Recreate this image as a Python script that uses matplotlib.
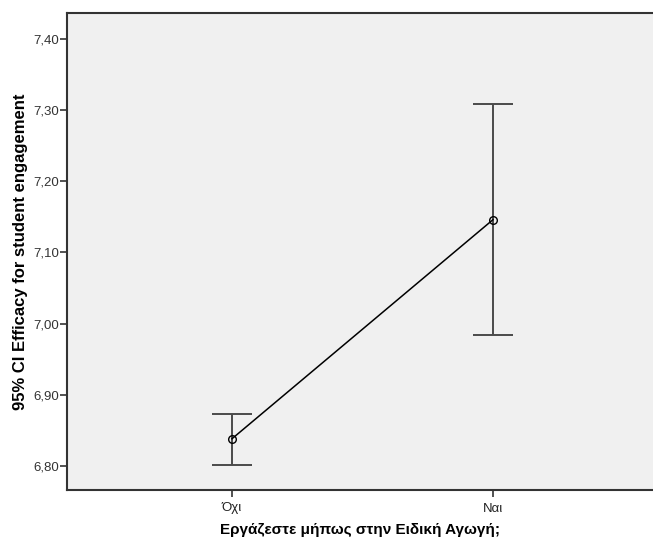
import numpy as np
import matplotlib.pyplot as plt
from matplotlib.ticker import FixedLocator

plt.rcParams['font.family'] = ['Liberation Sans', 'DejaVu Sans']

# data
categories = ["Όχι", "Ναι"]
means = [6.838, 7.146]
ci_low = [6.801, 6.984]
ci_high = [6.873, 7.308]
y_ticks = [6.80, 6.90, 7.00, 7.10, 7.20, 7.30, 7.40]

fig = plt.figure(figsize=(6.53, 5.40), dpi=100)
ax = fig.add_axes([67/653, 50/540, 586/653, 477/540])
ax.set_facecolor("#f0f0f0")

x = np.arange(len(categories))
means = np.array(means)
yerr = [means - np.array(ci_low), np.array(ci_high) - means]

ax.errorbar(x, means, yerr=yerr, fmt="none", ecolor="#4a4a4a", elinewidth=1.4,
            capsize=14.4, capthick=1.4, zorder=2)
ax.plot(x, means, color="black", linewidth=1.1, zorder=3)
ax.plot(x, means, linestyle="none", marker="o", markersize=5.5,
        markerfacecolor="none", markeredgecolor="black", markeredgewidth=1.0, zorder=4)

ax.set_xlim(-0.632, 1.613)
ax.set_ylim(6.766, 7.4365)
ax.set_xticks(x)
ax.set_xticklabels(categories, fontsize=9.5, color="#222222")
ax.yaxis.set_major_locator(FixedLocator(y_ticks))
ax.set_yticklabels([f"{v:.2f}".replace(".", ",") for v in y_ticks], fontsize=9.5, color="#333333")

ax.tick_params(axis="both", direction="out", length=5, width=1.2, color="#333333")
ax.tick_params(axis="y", pad=0.5)
ax.tick_params(axis="x", pad=4)

for side in ["left", "bottom", "top"]:
    ax.spines[side].set_color("#333333")
    ax.spines[side].set_linewidth(1.5)
ax.spines["right"].set_visible(False)

ax.set_ylabel("95% CI Efficacy for student engagement", fontsize=12, fontweight="bold", labelpad=4)
ax.set_xlabel("Εργάζεστε μήπως στην Ειδική Αγωγή;", fontsize=11, fontweight="bold", labelpad=6)

fig.savefig("out.png", dpi=100)
